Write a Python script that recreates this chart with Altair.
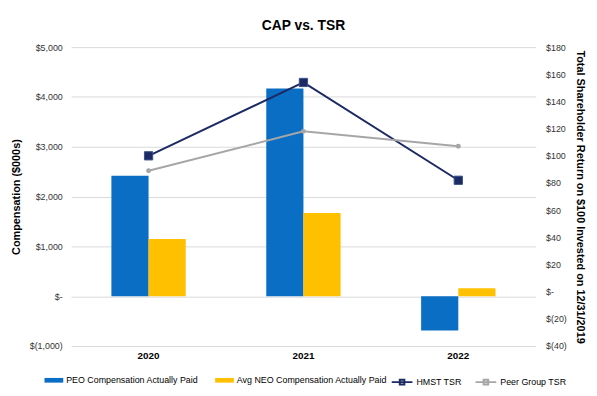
import altair as alt
import pandas as pd

years = ["2020", "2021", "2022"]
peo_cap = [2420, 4170, -690]
neo_cap = [1150, 1670, 160]
hmst_tsr = [100, 154, 82]
peer_tsr = [89, 118, 107]

bar_series = ["PEO Compensation Actually Paid", "Avg NEO Compensation Actually Paid"]
line_series = ["HMST TSR", "Peer Group TSR"]

bars = pd.DataFrame({
    "year": years * 2,
    "series": [bar_series[0]] * 3 + [bar_series[1]] * 3,
    "value": peo_cap + neo_cap,
})
lines = pd.DataFrame({
    "year": years * 2,
    "series": [line_series[0]] * 3 + [line_series[1]] * 3,
    "value": hmst_tsr + peer_tsr,
})

FONT = "Liberation Sans"

money = ("datum.value == 0 ? '$-' : (datum.value < 0 ? '$(' + format(-datum.value, ',') + ')'"
         " : '$' + format(datum.value, ','))")

x_enc = alt.X("year:N", sort=years,
              scale=alt.Scale(paddingInner=0.52, paddingOuter=0.26),
              axis=alt.Axis(title=None, labelFontWeight="bold", labelAngle=0, domain=False,
                            ticks=False, labelPadding=5, labelFontSize=10, labelColor="#000",
                            grid=False))

y_left = alt.Y("value:Q", stack=None,
               scale=alt.Scale(domain=[-1000, 5000], nice=False, zero=False),
               axis=alt.Axis(title="Compensation ($000s)", values=list(range(-1000, 5001, 1000)),
                             labelExpr=money, grid=True, gridColor="#D9D9D9", domain=False,
                             ticks=False, labelPadding=9, titlePadding=8, labelFontSize=9,
                             labelColor="#333", titleFontSize=11, titleFontWeight="bold",
                             titleColor="#000"))

y_right = alt.Y("value:Q",
                scale=alt.Scale(domain=[-40, 180], nice=False, zero=False),
                axis=alt.Axis(title="Total Shareholder Return on $100 Invested on 12/31/2019",
                              orient="right", values=list(range(-40, 181, 20)),
                              labelExpr=money, grid=False, domain=False, ticks=False,
                              labelPadding=10, titlePadding=8, labelFontSize=9,
                              labelColor="#333", titleFontSize=11, titleFontWeight="bold",
                              titleColor="#000"))

bar = alt.Chart(bars).mark_bar().encode(
    x=x_enc,
    xOffset=alt.XOffset("series:N", sort=bar_series,
                        scale=alt.Scale(domain=bar_series, paddingInner=0, paddingOuter=0)),
    y=y_left,
    color=alt.Color("series:N", sort=bar_series,
                    scale=alt.Scale(domain=bar_series, range=["#0A6EC4", "#FFC000"]),
                    legend=alt.Legend(title=None, orient="none", legendX=-27, legendY=328,
                                      direction="horizontal",
                                      symbolType="M-1,-0.25H1V0.25H-1Z", symbolSize=361,
                                      symbolStrokeWidth=0, labelOffset=3,
                                      labelFontSize=9, labelColor="#000", columnPadding=16,
                                      labelLimit=300)),
)

line = alt.Chart(lines).mark_line(strokeWidth=2).encode(
    x=x_enc,
    y=y_right,
    stroke=alt.Stroke("series:N", sort=line_series,
                      scale=alt.Scale(domain=line_series, range=["#1B2A63", "#A6A6A6"]),
                      legend=alt.Legend(title=None, orient="none", legendX=324, legendY=328,
                                        direction="horizontal",
                                        symbolType="M-1,0H1M-0.22,-0.22H0.22V0.22H-0.22Z",
                                        symbolSize=441, symbolStrokeWidth=2, labelOffset=3,
                                        labelFontSize=9, labelColor="#000", columnPadding=10,
                                        labelLimit=300)),
)

pts_h = alt.Chart(lines).transform_filter(alt.datum.series == line_series[0]).mark_point(
    shape="square", filled=True, size=70, fill="#1B2A63", stroke="#3A4F8A", strokeWidth=1, opacity=1
).encode(x=x_enc, y=y_right)

pts_p = alt.Chart(lines).transform_filter(alt.datum.series == line_series[1]).mark_point(
    shape="circle", filled=True, size=25, fill="#A6A6A6", opacity=1
).encode(x=x_enc, y=y_right)

right = alt.layer(line, pts_h, pts_p)

chart = alt.layer(bar, right).resolve_scale(y="independent").properties(
    width=471, height=303,
    title=alt.Title("CAP vs. TSR", fontSize=14, fontWeight="bold", font=FONT, color="#000",
                    anchor="middle", offset=10),
    autosize=alt.AutoSizeParams(type="none"),
    padding={"left": 64, "top": 37, "right": 54, "bottom": 48},
).configure(font=FONT).configure_view(stroke=None)

chart.save("out.html", embed_options={"renderer": "svg", "actions": False})
